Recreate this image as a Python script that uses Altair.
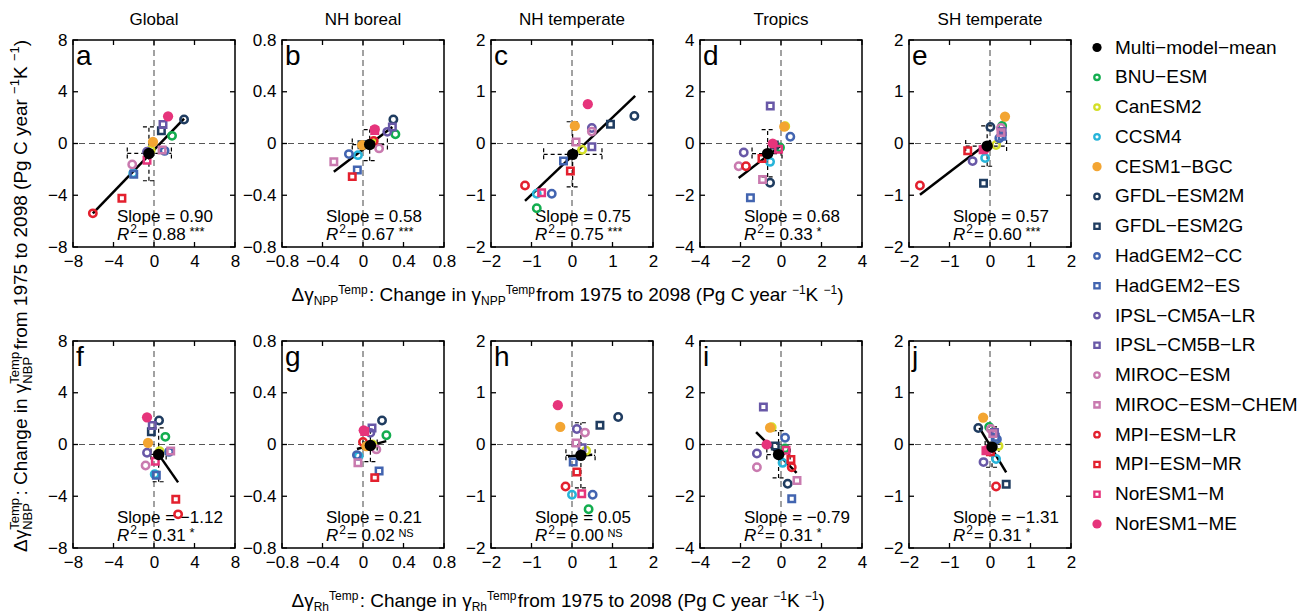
import altair as alt
import pandas as pd

FONT = "Liberation Sans"
PW, PH = 162, 207

# ---------------- data ----------------
models = ["BNU−ESM", "CanESM2", "CCSM4", "CESM1−BGC", "GFDL−ESM2M", "GFDL−ESM2G",
          "HadGEM2−CC", "HadGEM2−ES", "IPSL−CM5A−LR", "IPSL−CM5B−LR", "MIROC−ESM",
          "MIROC−ESM−CHEM", "MPI−ESM−LR", "MPI−ESM−MR", "NorESM1−M", "NorESM1−ME"]
model_colors = ["#13ad4f", "#d4df27", "#27b4d9", "#f3a532", "#1f3c60", "#1f3c60",
                "#4264b0", "#4264b0", "#6858a7", "#6858a7", "#c97aaf", "#c97aaf",
                "#e3202e", "#e3202e", "#e6347b", "#e6347b"]
model_shapes = ["circle", "circle", "circle", "circle", "circle", "square",
                "circle", "square", "circle", "square", "circle", "square",
                "circle", "square", "square", "circle"]
model_filled = [False, False, False, True, False, False, False, False, False, False,
                False, False, False, False, False, True]
mean_label = "Multi−model−mean"

regions = ["Global", "NH boreal", "NH temperate", "Tropics", "SH temperate"]
letters = ["a", "b", "c", "d", "e", "f", "g", "h", "i", "j"]
limits = [8, 0.8, 2, 4, 2]
tick_values = [[-8, -4, 0, 4, 8], [-0.8, -0.4, 0, 0.4, 0.8], [-2, -1, 0, 1, 2],
               [-4, -2, 0, 2, 4], [-2, -1, 0, 1, 2]]

global_nbp = [0.59, -0.52, -2.30, 0.13, 1.85, 0.98, -0.57, -2.37, -0.64, 1.47, -1.62, -0.50, -5.40, -4.24, -1.29, 2.10]
global_npp = [1.78, -0.33, -2.05, -0.10, 2.97, 0.73, 1.05, -2.00, -0.69, 0.89, -2.15, 0.80, -6.04, -3.17, -0.69, 1.39]
global_rh = [1.12, 0.56, 0.07, -0.59, 0.50, -0.26, 1.49, 0.23, -0.69, -0.17, -0.83, 1.65, 2.38, 2.15, 0.13, -0.69]

boreal_nbp = [0.072, 0.000, -0.090, -0.013, 0.185, -0.010, -0.082, -0.205, 0.090, 0.128, -0.038, -0.141, 0.020, -0.256, 0.100, 0.110]
boreal_npp = [0.32, 0.10, -0.05, -0.007, 0.30, -0.01, -0.139, -0.056, 0.24, 0.29, 0.159, -0.288, 0.106, -0.106, 0.116, 0.116]
boreal_rh = [0.231, 0.093, -0.043, 0.033, 0.188, 0.050, -0.060, 0.159, 0.073, 0.089, 0.132, -0.050, 0.000, 0.116, 0.017, 0.007]

ntemp_nbp = [-1.25, -0.12, -0.97, 0.34, 0.53, 0.37, -0.97, -0.34, 0.30, -0.065, 0.23, 0.03, -0.81, -0.53, -0.95, 0.76]
ntemp_npp = [-0.87, 0.25, -0.87, 0.07, 1.54, 0.95, -0.50, -0.21, 0.49, 0.49, 0.49, 0.10, -1.16, -0.04, -0.75, 0.39]
ntemp_rh = [0.41, 0.35, 0.00, -0.29, 1.14, 0.69, 0.51, 0.03, 0.12, 0.25, 0.32, 0.10, -0.16, 0.12, 0.24, -0.35]

tropics_nbp = [-0.15, 0.67, -0.71, 0.65, -1.52, -0.06, 0.26, -2.10, -0.35, 1.45, -0.88, -1.39, -0.88, -0.58, -0.22, 0.00]
tropics_npp = [-0.05, 0.21, -0.54, 0.16, -0.54, -0.33, 0.46, -1.51, -1.84, -0.53, -2.09, -0.91, -1.73, -0.94, -0.12, -0.41]
tropics_rh = [0.20, -0.46, 0.08, -0.54, 0.33, -0.28, 0.20, 0.53, -1.19, -0.87, -1.19, 0.79, 0.53, 0.49, 0.25, -0.71]

stemp_nbp = [0.34, -0.03, -0.28, 0.52, 0.32, -0.77, 0.10, 0.14, -0.34, 0.23, 0.30, 0.21, -0.81, -0.14, -0.12, -0.10]
stemp_npp = [0.30, 0.15, -0.12, 0.37, 0.01, -0.16, 0.23, 0.30, -0.43, 0.30, 0.27, 0.27, -1.73, -0.55, -0.17, -0.12]
stemp_rh = [-0.02, 0.21, 0.15, -0.17, -0.29, 0.40, 0.17, 0.13, -0.16, 0.11, 0.02, 0.07, 0.15, 0.01, -0.10, -0.06]

nbp_sets = [global_nbp, boreal_nbp, ntemp_nbp, tropics_nbp, stemp_nbp]
npp_sets = [global_npp, boreal_npp, ntemp_npp, tropics_npp, stemp_npp]
rh_sets = [global_rh, boreal_rh, ntemp_rh, tropics_rh, stemp_rh]

mean_y = [-0.77, -0.008, -0.21, -0.39, -0.05]
mean_x_npp = [-0.50, 0.066, 0.016, -0.66, -0.07]
mean_x_rh = [0.46, 0.073, 0.22, -0.12, 0.05]
npp_xlo = [-2.64, -0.106, -0.70, -1.43, -0.60]
npp_xhi = [1.72, 0.241, 0.74, 0.05, 0.41]
rh_xlo = [-0.30, 0.000, -0.15, -0.70, -0.12]
rh_xhi = [1.20, 0.140, 0.57, 0.45, 0.22]
err_ylo = [-2.88, -0.133, -0.84, -1.29, -0.44]
err_yhi = [1.29, 0.108, 0.42, 0.54, 0.34]

line_npp_x1 = [-6.04, -0.288, -1.16, -2.09, -1.73]
line_npp_y1 = [-5.40, -0.218, -1.11, -1.33, -0.99]
line_npp_x2 = [2.97, 0.29, 1.56, 0.08, 0.02]
line_npp_y2 = [1.93, 0.128, 0.92, -0.03, 0.06]
line_rh_x1 = [0.35, -0.06, -0.10, -1.23, -0.26]
line_rh_y1 = [-0.65, -0.035, -0.23, 0.48, 0.32]
line_rh_x2 = [2.38, 0.23, 0.50, 0.77, 0.40]
line_rh_y2 = [-2.93, 0.026, -0.20, -1.10, -0.54]

slope_npp = ["0.90", "0.58", "0.75", "0.68", "0.57"]
slope_rh = ["−1.12", "0.21", "0.05", "−0.79", "−1.31"]
r2_npp = ["0.88", "0.67", "0.75", "0.33", "0.60"]
r2_rh = ["0.31", "0.02", "0.00", "0.31", "0.31"]
sig_npp = ["***", "***", "***", "*", "***"]
sig_rh = ["*", "NS", "NS", "*", "*"]

# ---------------- text helpers ----------------
CHAR_W = {" ": 278, "(": 333, ")": 333, ":": 278, ".": 278, "=": 584, "*": 389,
          "−": 584, "B": 667, "C": 722, "K": 667, "N": 722, "P": 667, "R": 722,
          "S": 667, "T": 611, "a": 556, "e": 556, "f": 278, "g": 556, "h": 556,
          "i": 222, "l": 222, "m": 833, "n": 556, "o": 556, "p": 556, "r": 333,
          "t": 278, "y": 500, "Δ": 668, "γ": 500}


def tw(s, fs):
    return sum(CHAR_W.get(c, 556) for c in s) * fs / 1000.0


SUP_SHIFT, SUB_SHIFT = -8, 5


def title_segments(sub, main_fs, ss_fs, stacked):
    segs = []
    pos = [0.0]

    def add(t, fs, shift):
        segs.append((t, pos[0], fs, shift))
        pos[0] += tw(t, fs)

    def group():
        if stacked:
            segs.append(("Temp", pos[0], ss_fs, SUP_SHIFT))
            segs.append((sub, pos[0], ss_fs, SUB_SHIFT))
            pos[0] += max(tw("Temp", ss_fs), tw(sub, ss_fs)) + 1
        else:
            add(sub, ss_fs, SUB_SHIFT)
            add("Temp", ss_fs, SUP_SHIFT)

    add("Δγ", main_fs, 0)
    group()
    add(": Change in γ", main_fs, 0)
    group()
    add(" from 1975 to 2098 (Pg C year", main_fs, 0)
    add("−1", ss_fs, SUP_SHIFT)
    add(" K", main_fs, 0)
    add("−1", ss_fs, SUP_SHIFT)
    add(")", main_fs, 0)
    return segs, pos[0]


def text_layer(rows, italic=False, align="left", angle=0):
    df = pd.DataFrame(rows)
    mk = dict(align=align, baseline="alphabetic", font=FONT, color="black")
    if italic:
        mk["fontStyle"] = "italic"
    if angle:
        mk["angle"] = angle
    return alt.Chart(df).mark_text(**mk).encode(
        x=alt.X("px:Q", scale=None, axis=None),
        y=alt.Y("py:Q", scale=None, axis=None),
        text="txt:N",
        size=alt.Size("fs:Q", scale=None, legend=None),
    )


color_scale = alt.Scale(domain=models, range=model_colors)


def make_panel(ri, row):
    k = ri + 5 * row
    lim = limits[ri]
    tv = tick_values[ri]
    xsc = alt.Scale(domain=[-lim, lim], nice=False, zero=False)
    ysc = alt.Scale(domain=[-lim, lim], nice=False, zero=False)
    ax = alt.Axis(values=tv, format="~g", ticks=False, domain=False, grid=False,
                  labelFontSize=17, labelFont=FONT, labelColor="black", labelPadding=6,
                  labelFlush=False, labelOverlap=False, title=None)

    def X(f):
        return alt.X(f"{f}:Q", scale=xsc, axis=ax)

    def Y(f):
        return alt.Y(f"{f}:Q", scale=ysc, axis=ax)

    xvals = npp_sets[ri] if row == 0 else rh_sets[ri]
    pts = pd.DataFrame({"model": models, "x": xvals, "y": nbp_sets[ri],
                        "shape": model_shapes, "filled": model_filled})
    zero_df = pd.DataFrame({"v": [0]})
    tick_df = pd.DataFrame({"t": tv})
    if row == 0:
        mx, xlo, xhi = mean_x_npp[ri], npp_xlo[ri], npp_xhi[ri]
        lx1, ly1, lx2, ly2 = line_npp_x1[ri], line_npp_y1[ri], line_npp_x2[ri], line_npp_y2[ri]
        st, r2, sg = slope_npp[ri], r2_npp[ri], sig_npp[ri]
    else:
        mx, xlo, xhi = mean_x_rh[ri], rh_xlo[ri], rh_xhi[ri]
        lx1, ly1, lx2, ly2 = line_rh_x1[ri], line_rh_y1[ri], line_rh_x2[ri], line_rh_y2[ri]
        st, r2, sg = slope_rh[ri], r2_rh[ri], sig_rh[ri]
    mean_df = pd.DataFrame({"mx": [mx], "my": [mean_y[ri]], "xlo": [xlo], "xhi": [xhi],
                            "ylo": [err_ylo[ri]], "yhi": [err_yhi[ri]]})
    line_df = pd.DataFrame({"x1": [lx1], "y1": [ly1], "x2": [lx2], "y2": [ly2]})

    layers = []
    dash = dict(strokeDash=[6, 4], color="#555555", strokeWidth=1.1)
    layers.append(alt.Chart(zero_df).mark_rule(**dash).encode(x=X("v")))
    layers.append(alt.Chart(zero_df).mark_rule(**dash).encode(y=Y("v")))
    tk = dict(color="black", strokeWidth=1.3)
    layers.append(alt.Chart(tick_df).mark_rule(**tk).encode(x=X("t"), y=alt.value(PH), y2=alt.value(PH - 5)))
    layers.append(alt.Chart(tick_df).mark_rule(**tk).encode(x=X("t"), y=alt.value(0), y2=alt.value(5)))
    layers.append(alt.Chart(tick_df).mark_rule(**tk).encode(y=Y("t"), x=alt.value(0), x2=alt.value(5)))
    layers.append(alt.Chart(tick_df).mark_rule(**tk).encode(y=Y("t"), x=alt.value(PW), x2=alt.value(PW - 5)))

    # texts
    x0 = 44
    xr2 = x0 + tw("R", 17) + 1
    xeq = xr2 + tw("2", 12) + 1
    xsig = xeq + tw(" = " + r2, 17) - 1
    sig_fs = 13 if sg.startswith("*") else 11
    rows = [dict(txt=letters[k], px=3, py=25, fs=28),
            dict(txt="Slope = " + st, px=x0, py=181.5, fs=17),
            dict(txt="2", px=xr2, py=193, fs=12),
            dict(txt=" = " + r2, px=xeq, py=200, fs=17),
            dict(txt=sg, px=xsig, py=196, fs=sig_fs)]
    if ri == 2:
        segs, total = title_segments("NPP" if row == 0 else "Rh", 19, 12, False)
        start = -199.5
        base = PH + (54 if row == 0 else 59)
        for t, p, fs, sh in segs:
            rows.append(dict(txt=t, px=start + p, py=base + (sh * 0.85), fs=fs))
    layers.append(text_layer(rows))
    layers.append(text_layer([dict(txt="R", px=x0, py=200, fs=17)], italic=True))
    if row == 0:
        layers.append(text_layer([dict(txt=regions[ri], px=PW / 2, py=-15, fs=17)], align="center"))
    if ri == 0 and row == 0:
        segs, total = title_segments("NBP", 19, 13, True)
        cy = 256
        start = cy + total / 2
        basex = -46
        # rotated text: superscript shifts left (negative x), subscript right
        yrows = [dict(txt=t, px=basex + sh, py=start - p, fs=fs) for t, p, fs, sh in segs]
        layers.append(text_layer(yrows, angle=270))

    # regression line
    layers.append(alt.Chart(line_df).mark_rule(color="black", strokeWidth=2.5).encode(
        x=X("x1"), y=Y("y1"), x2="x2", y2="y2"))
    # error bars
    eb = dict(color="black", strokeWidth=1.2, strokeDash=[4, 3])
    layers.append(alt.Chart(mean_df).mark_rule(**eb).encode(x=X("xlo"), x2="xhi", y=Y("my")))
    layers.append(alt.Chart(mean_df).mark_rule(**eb).encode(x=X("mx"), y=Y("ylo"), y2="yhi"))
    layers.append(alt.Chart(mean_df).mark_rule(yOffset=-6, y2Offset=6, **eb).encode(x=X("xlo"), y=Y("my"), y2="my"))
    layers.append(alt.Chart(mean_df).mark_rule(yOffset=-6, y2Offset=6, **eb).encode(x=X("xhi"), y=Y("my"), y2="my"))
    layers.append(alt.Chart(mean_df).mark_rule(xOffset=-6, x2Offset=6, **eb).encode(y=Y("ylo"), x=X("mx"), x2="mx"))
    layers.append(alt.Chart(mean_df).mark_rule(xOffset=-6, x2Offset=6, **eb).encode(y=Y("yhi"), x=X("mx"), x2="mx"))

    col = alt.Color("model:N", scale=color_scale, legend=None)
    oc = pts[(pts["shape"] == "circle") & (~pts["filled"])]
    osq = pts[(pts["shape"] == "square") & (~pts["filled"])]
    fc = pts[pts["filled"]]
    layers.append(alt.Chart(oc).mark_point(shape="circle", filled=False, size=55, strokeWidth=2.5, opacity=1).encode(
        x=X("x"), y=Y("y"), color=col))
    layers.append(alt.Chart(osq).mark_point(shape="square", filled=False, size=42, strokeWidth=2.5, opacity=1).encode(
        x=X("x"), y=Y("y"), color=col))
    layers.append(alt.Chart(fc).mark_point(shape="circle", filled=True, size=105, opacity=1).encode(
        x=X("x"), y=Y("y"), color=col))
    layers.append(alt.Chart(mean_df).mark_point(shape="circle", filled=True, size=130, opacity=1, color="black").encode(
        x=X("mx"), y=Y("my")))

    return alt.layer(*layers).properties(width=PW, height=PH)


# ---------------- legend ----------------
leg_order = [mean_label] + models
leg_df = pd.DataFrame({"model": models, "shape": model_shapes, "filled": model_filled})
mean_leg = pd.DataFrame({"model": [mean_label]})
text_leg = pd.DataFrame({"model": leg_order})
lys = alt.Scale(type="point", domain=leg_order, range=[7.5, 484], padding=0)
LY = alt.Y("model:N", scale=lys, axis=None)
lcol = alt.Color("model:N", scale=color_scale, legend=None)
l_oc = leg_df[(leg_df["shape"] == "circle") & (~leg_df["filled"])]
l_sq = leg_df[(leg_df["shape"] == "square") & (~leg_df["filled"])]
l_f = leg_df[leg_df["filled"]]
LX_SYM, LX_TXT = -21, -3
legend = alt.layer(
    alt.Chart(l_oc).mark_point(shape="circle", filled=False, size=30, strokeWidth=2.3, opacity=1).encode(
        x=alt.value(LX_SYM), y=LY, color=lcol),
    alt.Chart(l_sq).mark_point(shape="square", filled=False, size=28, strokeWidth=2.3, opacity=1).encode(
        x=alt.value(LX_SYM), y=LY, color=lcol),
    alt.Chart(l_f).mark_point(shape="circle", filled=True, size=85, opacity=1).encode(
        x=alt.value(LX_SYM), y=LY, color=lcol),
    alt.Chart(mean_leg).mark_point(shape="circle", filled=True, size=85, opacity=1, color="black").encode(
        x=alt.value(LX_SYM), y=LY),
    alt.Chart(text_leg).mark_text(align="left", baseline="middle", fontSize=19, font=FONT, color="black").encode(
        x=alt.value(LX_TXT), y=LY, text="model:N"),
).properties(width=170, height=PH, view=alt.ViewBackground(stroke="transparent"))

cells = [make_panel(i, 0) for i in range(5)] + [legend] + [make_panel(i, 1) for i in range(5)]

chart = alt.concat(*cells, columns=6, spacing={"row": 94, "column": 47}, bounds="flush").properties(
    padding={"left": 0, "top": 2, "right": 4, "bottom": 4}
).configure(font=FONT).configure_view(stroke="black", strokeWidth=1.5)

chart.save("out.html", embed_options={"renderer": "svg", "actions": False})
